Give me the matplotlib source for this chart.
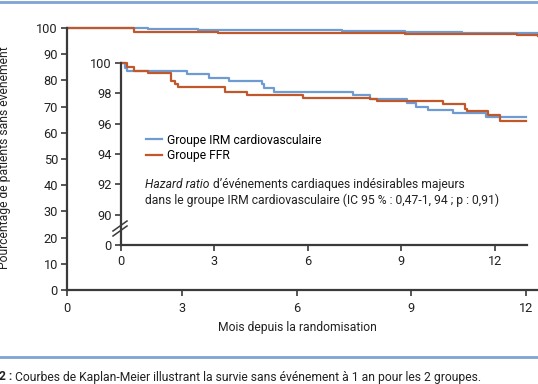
import matplotlib
matplotlib.use('Agg')
import matplotlib.pyplot as plt
from matplotlib.lines import Line2D

plt.rcParams['font.family'] = ['Roboto', 'DejaVu Sans']

W, H = 538, 384
blue = '#6f9bd3'
orange = '#c0582b'
axcol = '#3a3a3a'
txt = '#222222'
fs = 8.7

# main panel (0-100 %)
main_t = [0, 2.13, 3.42, 7.2, 8.84, 10.33, 12.31]
main_irm = [100, 99.5, 99.2, 98.8, 98.4, 98.1, 98.1]
main_ffr_t = [0, 1.76, 3.94, 8.84, 9.93, 10.6, 11.76, 12.31]
main_ffr = [100, 98.3, 98.0, 97.9, 97.8, 97.6, 97.4, 96.9]

# inset (zoom 90-100 %)
ins_irm_t = [0, 0.13, 0.18, 2.12, 2.83, 3.47, 4.51, 4.6, 4.92, 7.44, 8.0,
             9.17, 9.46, 9.86, 10.66, 11.71, 13.01]
ins_irm = [100, 99.65, 99.49, 99.26, 99.0, 98.82, 98.6, 98.34, 98.11, 97.89,
           97.63, 97.37, 97.12, 96.89, 96.7, 96.46, 96.46]
ins_ffr_t = [0, 0.18, 0.42, 0.88, 1.6, 1.73, 1.84, 3.34, 4.03, 5.85, 8.0,
             8.2, 10.34, 11.05, 11.12, 11.79, 12.16, 13.01]
ins_ffr = [100, 99.72, 99.47, 99.32, 98.84, 98.6, 98.4, 98.11, 97.91, 97.72,
           97.6, 97.5, 97.27, 97.0, 96.82, 96.56, 96.17, 96.17]

x_ticks = [0, 3, 6, 9, 12]
main_yticks = list(range(0, 101, 10))
ins_yticks = [88, 90, 92, 94, 96, 98, 100]
ins_ylabels = ['0', '90', '92', '94', '96', '98', '100']


def fx(x):
    return x / W


def fy(y):
    return 1 - y / H


fig = plt.figure(figsize=(W / 100, H / 100), dpi=100)


def style(ax):
    for s in ['top', 'right']:
        ax.spines[s].set_visible(False)
    for s in ['left', 'bottom']:
        ax.spines[s].set_color(axcol)
        ax.spines[s].set_linewidth(1.6)
    ax.tick_params(colors=txt, labelsize=9.2, length=4, width=1.2,
                   color=axcol, pad=2.5)


ax = fig.add_axes([fx(67), fy(290), fx(538 - 67), (290 - 28) / H])
style(ax)
ax.tick_params(axis='x', pad=5)
ax.step(main_t, main_irm, where='post', color=blue, lw=1.6, clip_on=False)
ax.step(main_ffr_t, main_ffr, where='post', color=orange, lw=1.6, clip_on=False)
ax.set_xlim(0, 12.31)
ax.set_ylim(0, 100)
ax.set_xticks(x_ticks)
ax.set_yticks(main_yticks)

ins = fig.add_axes([fx(121), fy(245), fx(527 - 121), (245 - 63) / H])
style(ins)
ins.tick_params(axis='x', pad=3.5)
ins.patch.set_alpha(0)
ins.step(ins_irm_t, ins_irm, where='post', color=blue, lw=1.6,
         clip_on=False, label='Groupe IRM cardiovasculaire')
ins.step(ins_ffr_t, ins_ffr, where='post', color=orange, lw=1.6,
         clip_on=False, label='Groupe FFR')
ins.set_xlim(0, 13.03)
ins.set_ylim(88, 100)
ins.set_xticks(x_ticks)
ins.set_yticks(ins_yticks)
ins.set_yticklabels(ins_ylabels)

ins.legend(loc='upper left', bbox_to_anchor=(0.062, 0.612), frameon=False,
           fontsize=fs, handlelength=1.3, handletextpad=0.4, labelspacing=0.2,
           borderaxespad=0, borderpad=0)

t1 = fig.text(fx(145), fy(184), 'Hazard ratio', fontsize=fs, va='center',
              style='italic', color=txt)
fig.canvas.draw()
bb = t1.get_window_extent()
fig.text(bb.x1 / W, fy(184), ' d\u2019événements cardiaques indésirables majeurs',
         fontsize=fs, va='center', color=txt)
fig.text(fx(145), fy(200),
         'dans le groupe IRM cardiovasculaire (IC 95 % : 0,47-1, 94 ; p : 0,91)',
         fontsize=fs, va='center', color=txt)

# axis break marks
for dy in (0, -5):
    fig.add_artist(Line2D([fx(113), fx(127)], [fy(236 + dy), fy(226 + dy)],
                          color=axcol, lw=1.1))

fig.text(fx(5), fy(158), 'Pourcentage de patients sans événement',
         rotation=90, ha='center', va='center', fontsize=fs, color=txt)
fig.text(fx(297), fy(328), 'Mois depuis la randomisation', ha='center',
         va='center', fontsize=fs, color=txt)

# separators and caption
fig.add_artist(Line2D([0, 1], [fy(1.5), fy(1.5)], color='#7ea3d4', lw=2))
fig.add_artist(Line2D([0, 1], [fy(357), fy(357)], color='#7ea3d4', lw=2))
c1 = fig.text(fx(-1), fy(377), '2 :', fontsize=fs, fontweight='bold',
              va='center', color=txt)
fig.canvas.draw()
bb = c1.get_window_extent()
fig.text(bb.x1 / W, fy(377),
         ' Courbes de Kaplan-Meier illustrant la survie sans événement à 1 an pour les 2 groupes.',
         fontsize=fs, va='center', color=txt)

fig.savefig('out.png', dpi=100)
